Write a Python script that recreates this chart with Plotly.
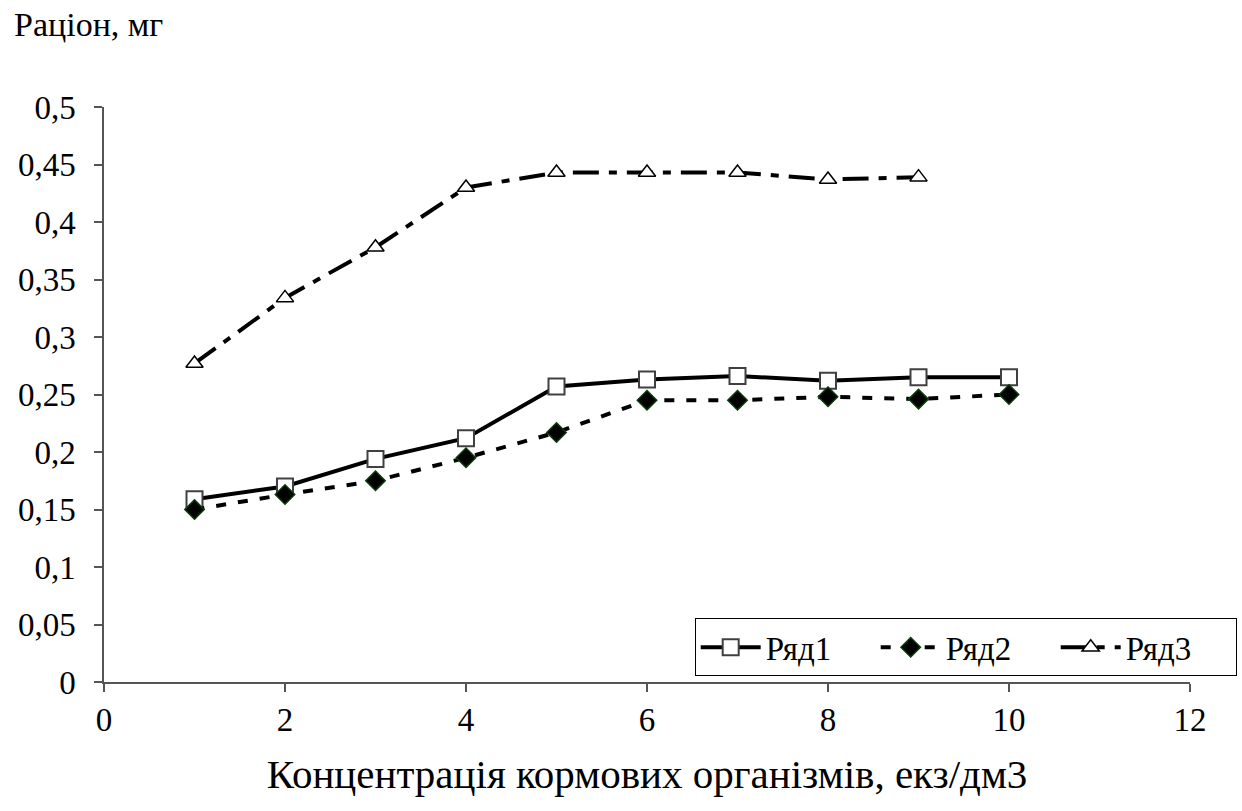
import plotly.graph_objects as go

# Feed concentration (x) and ration values for three series
concentration = [1, 2, 3, 4, 5, 6, 7, 8, 9, 10]
row1 = [0.159, 0.170, 0.194, 0.212, 0.257, 0.263, 0.266, 0.262, 0.265, 0.265]
row2 = [0.150, 0.163, 0.175, 0.195, 0.217, 0.245, 0.245, 0.248, 0.246, 0.250]
concentration3 = [1, 2, 3, 4, 5, 6, 7, 8, 9]
row3 = [0.277, 0.334, 0.378, 0.430, 0.443, 0.443, 0.443, 0.437, 0.439]

y_ticks = [0, 0.05, 0.1, 0.15, 0.2, 0.25, 0.3, 0.35, 0.4, 0.45, 0.5]
y_tick_text = ["0", "0,05", "0,1", "0,15", "0,2", "0,25", "0,3", "0,35", "0,4", "0,45", "0,5"]
x_ticks = [0, 2, 4, 6, 8, 10, 12]

FONT = "Liberation Serif, Times New Roman, serif"

fig = go.Figure()
fig.add_trace(go.Scatter(
    x=concentration, y=row1, name="Ряд1", mode="lines+markers",
    line=dict(color="black", width=4),
    marker=dict(symbol="square", size=16, color="white",
                line=dict(color="#404040", width=2)),
    cliponaxis=False,
))
fig.add_trace(go.Scatter(
    x=concentration, y=row2, name="Ряд2", mode="lines+markers",
    line=dict(color="black", width=4, dash="10px,12px"),
    marker=dict(symbol="diamond", size=15, color="black",
                line=dict(color="#0b3d0b", width=1.5)),
    cliponaxis=False,
))
fig.add_trace(go.Scatter(
    x=concentration3, y=row3, name="Ряд3", mode="lines+markers",
    line=dict(color="black", width=4, dash="26px,10px,8px,10px"),
    marker=dict(symbol="triangle-up", size=15, color="white",
                line=dict(color="black", width=1.5)),
    cliponaxis=False,
))

fig.update_layout(
    width=1242, height=811,
    margin=dict(l=104, r=52, t=107, b=129, autoexpand=False),
    paper_bgcolor="white", plot_bgcolor="white",
    font=dict(family=FONT, size=33, color="black"),
    showlegend=True,
    legend=dict(
        orientation="h", x=1.043, y=0.01, xanchor="right", yanchor="bottom",
        bordercolor="black", borderwidth=1, bgcolor="white",
        font=dict(family=FONT, size=33, color="black"),
        itemwidth=60, entrywidth=105, tracegroupgap=0,
    ),
    annotations=[dict(
        text="Раціон, мг", xref="paper", yref="paper",
        x=-0.085, y=1.143, xanchor="left", yanchor="middle",
        showarrow=False, font=dict(family=FONT, size=34, color="black"),
    )],
)

fig.update_xaxes(
    range=[0, 12], tickvals=x_ticks, ticktext=[str(v) for v in x_ticks],
    showgrid=False, zeroline=False, showline=True, linecolor="#555555", linewidth=1.5,
    ticks="outside", ticklen=8, tickcolor="#555555", tickwidth=1.5,
    ticklabelstandoff=0, automargin=False,
    title=dict(text="Концентрація кормових організмів, екз/дм3",
               font=dict(family=FONT, size=41, color="black"), standoff=22),
)
fig.update_yaxes(
    range=[0, 0.5], tickvals=y_ticks, ticktext=y_tick_text,
    showgrid=False, zeroline=False, showline=True, linecolor="#555555", linewidth=1.5,
    ticks="outside", ticklen=8, tickcolor="#555555", tickwidth=1.5,
    ticklabelstandoff=12, automargin=False,
)

fig.write_html("out.html")
